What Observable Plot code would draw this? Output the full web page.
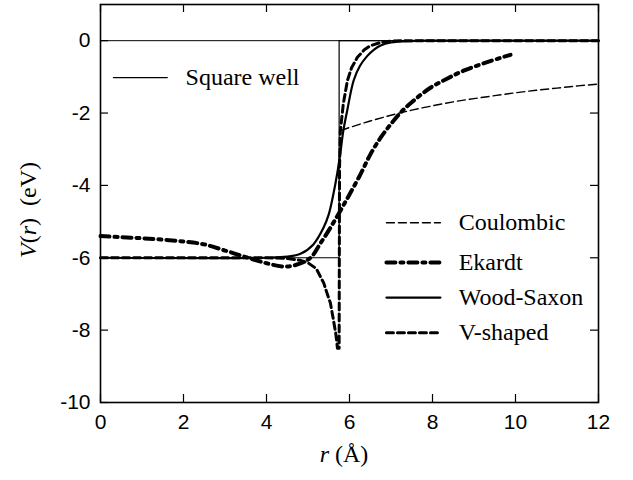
<!DOCTYPE html>
<html><head><meta charset="utf-8">
<script src="https://cdn.jsdelivr.net/npm/d3@7"></script>
<script src="https://cdn.jsdelivr.net/npm/@observablehq/plot@0.6"></script>
<style>body{margin:0;background:#fff}</style>
</head><body><div id="chart"></div>
<script>
// ---- data ----
const squareR = [0, 5.75, 5.75, 12];
const squareV = [-6, -6, 0, 0];

const coulR = [5.8, 6, 6.5, 7, 7.5, 8, 8.5, 9, 9.5, 10, 10.5, 11, 11.5, 12];
const coulV = [-2.48, -2.40, -2.22, -2.06, -1.92, -1.80, -1.69, -1.60, -1.52, -1.44, -1.37, -1.31, -1.25, -1.20];

const ekR = [0, 0.5, 1.0, 1.5, 2.0, 2.5, 3.0, 3.5, 4.0, 4.4, 4.7, 5.06, 5.3, 5.54, 5.78, 6.0, 6.27, 6.5, 6.75, 7.0, 7.23, 7.5, 7.95, 8.35, 8.75, 9.3, 9.88];
const ekV = [-5.40, -5.43, -5.46, -5.50, -5.55, -5.63, -5.80, -5.98, -6.15, -6.24, -6.20, -6.00, -5.60, -5.17, -4.70, -4.25, -3.68, -3.15, -2.68, -2.30, -1.99, -1.70, -1.30, -1.05, -0.83, -0.60, -0.39];

const wsR = [0, 4, 4.5, 4.82, 5.13, 5.37, 5.5, 5.61, 5.7, 5.78, 5.85, 5.95, 6.1, 6.25, 6.43, 6.6, 6.75, 7.0, 7.5, 8, 12];
const wsV = [-6, -6, -5.97, -5.89, -5.63, -5.18, -4.8, -4.25, -3.7, -3.1, -2.5, -1.9, -1.1, -0.7, -0.42, -0.24, -0.13, -0.05, -0.01, 0, 0];

const vR = [0, 4, 4.5, 4.82, 5.0, 5.2, 5.38, 5.45, 5.54, 5.61, 5.67, 5.71, 5.75, 5.76, 5.78, 5.85, 5.95, 6.05, 6.19, 6.35, 6.5, 6.75, 7, 7.5, 12];
const vV = [-6, -6, -6.02, -6.07, -6.14, -6.3, -6.7, -6.95, -7.25, -7.7, -8.1, -8.5, -8.5, -3.5, -2.5, -1.75, -1.1, -0.75, -0.46, -0.26, -0.14, -0.05, -0.01, 0, 0];

const xTicks = [0, 2, 4, 6, 8, 10, 12];
const yTicks = [0, -2, -4, -6, -8, -10];
const legendNames = ["Square well", "Coulombic", "Ekardt", "Wood-Saxon", "V-shaped"];

// ---- build ----
const SERIF = "'Liberation Serif', 'Times New Roman', Tinos, Times, 'DejaVu Serif', serif";
const SANS = "'Liberation Sans', Arial, Arimo, Helvetica, sans-serif";
const zip = (xs, ys) => xs.map((x, i) => ({r: x, v: ys[i]}));
const W = 633, H = 480, mL = 100, mR = 35, mT = 4, mB = 78;
const ph = H - mT - mB, pw = W - mL - mR;
const T = 8; // tick length (px)

const styles = [
  {stroke: "#000", strokeWidth: 1.2},
  {stroke: "#000", strokeWidth: 1.4, strokeDasharray: "8,4"},
  {stroke: "#000", strokeWidth: 4, strokeDasharray: "9,5,3,5"},
  {stroke: "#000", strokeWidth: 2.2},
  {stroke: "#000", strokeWidth: 3, strokeDasharray: "7,4"}
];
const series = [
  zip(squareR, squareV), zip(coulR, coulV), zip(ekR, ekV), zip(wsR, wsV), zip(vR, vV)
];
const curves = ["linear", "catmull-rom", "catmull-rom", "catmull-rom", "linear"];

// legend layout (data units inside frame)
const legendRows = [
  {x1: 0.31, x2: 1.61, tx: 2.05, y: -1.02},
  {x1: 6.89, x2: 8.19, tx: 8.63, y: -5.03},
  {x1: 6.89, x2: 8.19, tx: 8.63, y: -6.13},
  {x1: 6.89, x2: 8.19, tx: 8.63, y: -7.10},
  {x1: 6.89, x2: 8.19, tx: 8.63, y: -8.07}
];

const marks = [
  Plot.ruleY([0], {stroke: "#000", strokeWidth: 1}),
  ...series.map((s, i) => Plot.line(s, {x: "r", y: "v", curve: curves[i], ...styles[i]})),
  ...legendRows.map((L, i) => Plot.line([{r: L.x1, v: L.y}, {r: L.x2, v: L.y}], {x: "r", y: "v", ...styles[i]})),
  Plot.text(legendRows.map((L, i) => ({r: L.tx, v: L.y, t: legendNames[i]})),
    {x: "r", y: "v", text: "t", textAnchor: "start", fontFamily: SERIF, fontSize: 24, fill: "#000"}),
  // inward ticks on all four sides
  Plot.tickX(xTicks, {x: d => d, insetTop: ph - T, stroke: "#000", strokeWidth: 1.2}),
  Plot.tickX(xTicks, {x: d => d, insetBottom: ph - T, stroke: "#000", strokeWidth: 1.2}),
  Plot.tickY(yTicks, {y: d => d, insetRight: pw - T, stroke: "#000", strokeWidth: 1.2}),
  Plot.tickY(yTicks, {y: d => d, insetLeft: pw - T, stroke: "#000", strokeWidth: 1.2}),
  Plot.axisX(xTicks, {anchor: "bottom", tickSize: 0, tickPadding: 12, fontSize: 21, fontFamily: SANS, tickFormat: d => String(d), label: null}),
  Plot.axisY(yTicks, {anchor: "left", tickSize: 0, tickPadding: 10, fontSize: 21, fontFamily: SANS, tickFormat: d => String(d), label: null}),
  Plot.frame({stroke: "#000", strokeWidth: 1.6})
];

const svg = Plot.plot({
  width: W, height: H,
  marginLeft: mL, marginRight: mR, marginTop: mT, marginBottom: mB,
  x: {domain: [0, 12]},
  y: {domain: [-10, 1]},
  style: {fontFamily: SANS, background: "#fff", color: "#000"},
  marks
});

// axis titles with italic variables
const sel = d3.select(svg);
const xl = sel.append("text").attr("x", 344).attr("y", 462).attr("text-anchor", "middle")
  .style("font-family", SERIF).attr("font-size", 24).attr("fill", "#000");
xl.append("tspan").attr("font-style", "italic").text("r");
xl.append("tspan").text(" (Å)");
const yl = sel.append("text").attr("transform", "translate(36,210) rotate(-90)").attr("text-anchor", "middle")
  .style("font-family", SERIF).attr("font-size", 24).attr("fill", "#000");
yl.append("tspan").attr("font-style", "italic").text("V");
yl.append("tspan").text("(");
yl.append("tspan").attr("font-style", "italic").text("r");
yl.append("tspan").text(")\u00a0\u00a0(eV)");

document.getElementById("chart").appendChild(svg);
</script>
</body></html>
